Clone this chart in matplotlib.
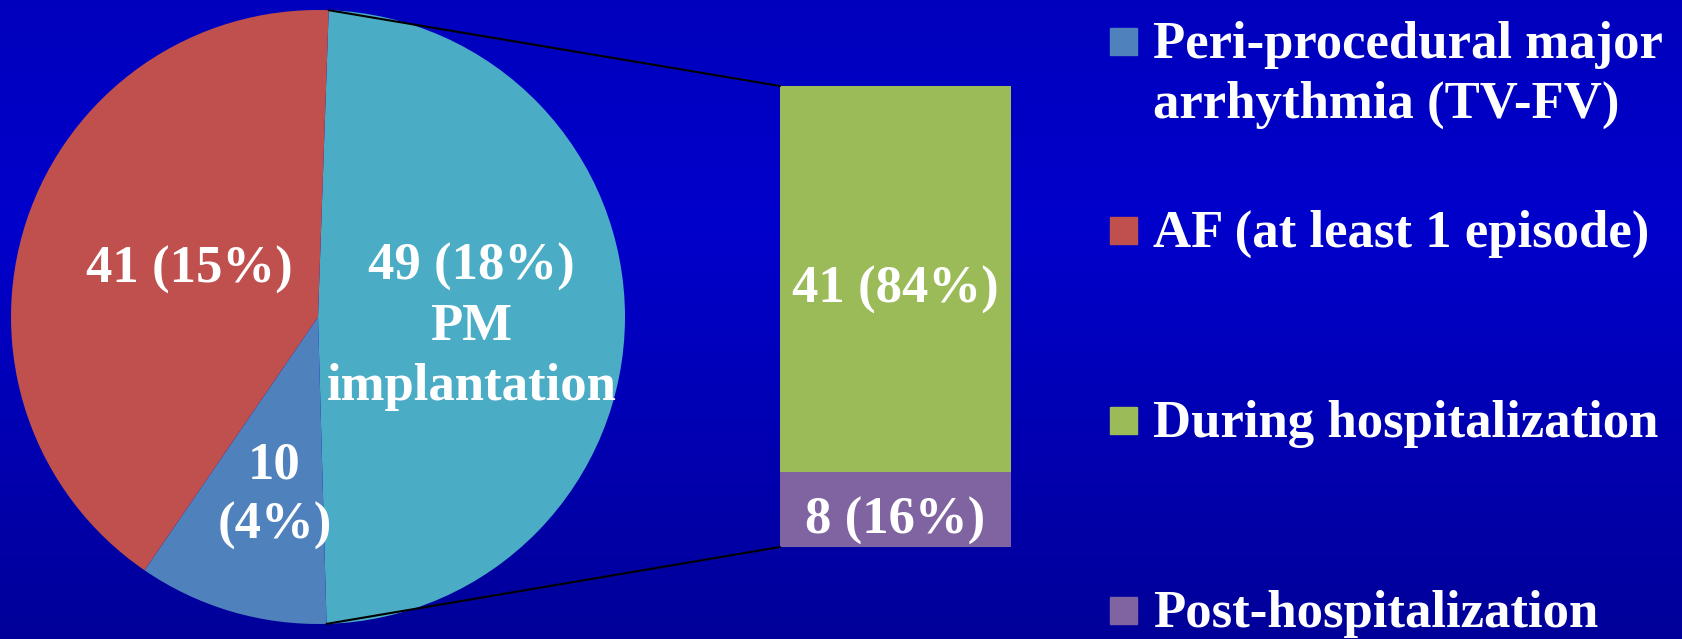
import numpy as np
import matplotlib
matplotlib.use("Agg")
from matplotlib import pyplot as plt
from matplotlib.patches import ConnectionPatch, Rectangle

# pie: PM implantation, peri-procedural arrhythmia, AF
pie_values = [49, 10, 41]
pie_labels = ["49 (18%)\nPM\nimplantation", "10\n(4%)", "41 (15%)"]
pie_colors = ["#4BACC6", "#4F81BD", "#C0504D"]

# bar: breakdown of PM implantation
bar_values = [8, 41]
bar_labels = ["8 (16%)", "41 (84%)"]
bar_colors = ["#8064A2", "#9BBB59"]

legend_labels = [["Peri-procedural major", "arrhythmia (TV-FV)"], ["AF (at least 1 episode)"],
                 ["During hospitalization"], ["Post-hospitalization"]]
legend_colors = ["#4F81BD", "#C0504D", "#9BBB59", "#8064A2"]

W, H = 1683, 639
fig = plt.figure(figsize=(W / 100, H / 100), dpi=100)
plt.rcParams['font.family'] = ['Liberation Serif', 'DejaVu Serif']
FS = 38

# background gradient
bg = fig.add_axes([0, 0, 1, 1], zorder=-10)
t = np.linspace(0, 1, 300)
blue = np.interp(t, [0, 0.35, 1], [0.74, 0.80, 0.60])
img = np.zeros((300, 1, 3))
img[:, 0, 2] = blue
bg.imshow(img, aspect="auto", extent=[0, 1, 0, 1])
bg.axis("off")

# pie
ax = fig.add_axes([11 / W, 15 / H, 614 / W, 614 / H])
wedges, _ = ax.pie(pie_values, colors=pie_colors, startangle=88, counterclock=False,
                   wedgeprops=dict(linewidth=0))
ax.set_xlim(-1, 1)
ax.set_ylim(-1, 1)
ax.set_aspect("equal")
ax.axis("off")

label_r = [0.5, 0.56, 0.46]
label_dx = [0.0, 0.016, 0.017]
label_dy = [-0.03, -0.046, 0.01]
for w, lab, r, dx, dy in zip(wedges, pie_labels, label_r, label_dx, label_dy):
    ang = np.deg2rad((w.theta1 + w.theta2) / 2)
    ax.text(r * np.cos(ang) + dx, r * np.sin(ang) + dy, lab,
            ha="center", va="center", color="white", fontsize=FS, fontweight="bold",
            linespacing=1.32)

# bar
ax2 = fig.add_axes([780 / W, 92 / H, 231 / W, 461 / H])
bottom = 0
for v, lab, c in zip(bar_values, bar_labels, bar_colors):
    ax2.bar(0, v, bottom=bottom, width=1, color=c, linewidth=0)
    ax2.text(0, bottom + v / 2 - 1.2, lab, ha="center", va="center",
             color="white", fontsize=FS, fontweight="bold")
    bottom += v
ax2.set_xlim(-0.5, 0.5)
ax2.set_ylim(0, sum(bar_values))
ax2.axis("off")

# connector lines
cyan = wedges[0]
for th, yb in [(cyan.theta2, sum(bar_values)), (cyan.theta1, 0)]:
    a = np.deg2rad(th)
    con = ConnectionPatch(xyA=(np.cos(a), np.sin(a)), coordsA=ax.transData,
                          xyB=(-0.5, yb), coordsB=ax2.transData,
                          color="black", linewidth=1.5)
    fig.add_artist(con)

# legend
leg_y = [58, 247, 437, 627]
for lines, c, yb in zip(legend_labels, legend_colors, leg_y):
    fig.patches.append(Rectangle((1110 / W, 1 - (yb - 3) / H), 27 / W, 27 / H,
                                 transform=fig.transFigure, color=c))
    for i, s in enumerate(lines):
        fig.text(1153 / W, 1 - (yb + 60 * i) / H, s, ha="left", va="baseline",
                 color="white", fontsize=FS, fontweight="bold")

fig.savefig("out.png", dpi=100)
